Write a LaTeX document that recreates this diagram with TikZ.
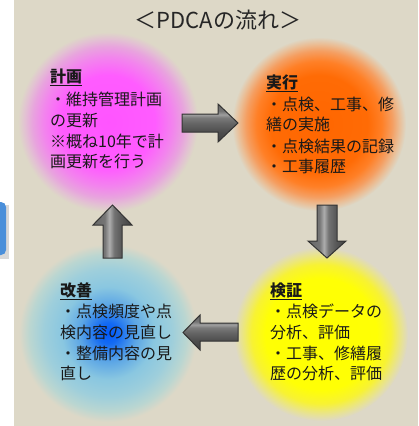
\documentclass[tikz,border=0pt]{standalone}
\usepackage{fontspec}
\newfontfamily\jp{Noto Sans CJK JP}
\definecolor{bg}{RGB}{221,216,199}
\definecolor{tabblue}{RGB}{74,143,218}
\pgfdeclareradialshading{pinkball}{\pgfpointorigin}{rgb(0bp)=(1,0.33,1); rgb(13bp)=(1,0.36,1); rgb(18bp)=(0.95,0.52,0.93); rgb(21bp)=(0.91,0.64,0.87); rgb(23bp)=(0.89,0.75,0.83); rgb(25bp)=(0.867,0.847,0.78); rgb(50bp)=(0.867,0.847,0.78)}
\pgfdeclareradialshading{orangeball}{\pgfpointorigin}{rgb(0bp)=(1,0.40,0); rgb(14bp)=(1,0.42,0.02); rgb(18bp)=(1,0.50,0.15); rgb(21bp)=(0.96,0.62,0.38); rgb(23bp)=(0.92,0.74,0.58); rgb(25bp)=(0.867,0.847,0.78); rgb(50bp)=(0.867,0.847,0.78)}
\pgfdeclareradialshading{yellowball}{\pgfpointorigin}{rgb(0bp)=(1,1,0); rgb(16bp)=(1,1,0.02); rgb(20bp)=(0.97,0.95,0.2); rgb(22bp)=(0.93,0.91,0.45); rgb(23.5bp)=(0.9,0.88,0.62); rgb(25bp)=(0.867,0.847,0.78); rgb(50bp)=(0.867,0.847,0.78)}
\pgfdeclareradialshading{blueball}{\pgfpointorigin}{rgb(0bp)=(0,0.35,1); rgb(3bp)=(0.08,0.42,0.95); rgb(8bp)=(0.36,0.65,0.9); rgb(13bp)=(0.54,0.78,0.88); rgb(18bp)=(0.62,0.81,0.86); rgb(22bp)=(0.73,0.84,0.82); rgb(25bp)=(0.867,0.847,0.78); rgb(50bp)=(0.867,0.847,0.78)}
\pgfdeclareverticalshading{hbevel}{100bp}{rgb(0bp)=(0.25,0.25,0.25); rgb(25bp)=(0.25,0.25,0.25); rgb(38bp)=(0.3,0.3,0.3); rgb(50bp)=(0.4,0.4,0.4); rgb(57bp)=(0.48,0.48,0.48); rgb(61bp)=(0.62,0.62,0.62); rgb(66bp)=(0.45,0.45,0.45); rgb(75bp)=(0.42,0.42,0.42); rgb(100bp)=(0.42,0.42,0.42)}
\pgfdeclarehorizontalshading{vbevel}{100bp}{rgb(0bp)=(0.4,0.4,0.4); rgb(25bp)=(0.4,0.4,0.4); rgb(40bp)=(0.46,0.46,0.46); rgb(46bp)=(0.68,0.68,0.68); rgb(52bp)=(0.45,0.45,0.45); rgb(60bp)=(0.36,0.36,0.36); rgb(75bp)=(0.25,0.25,0.25); rgb(100bp)=(0.25,0.25,0.25)}
\begin{document}
\begin{tikzpicture}[x=1pt,y=-1pt,
  ball/.style={circle,inner sep=0pt,minimum size=#1},
  body/.style={anchor=base west,inner sep=0pt,font=\jp\fontsize{16}{21}\selectfont,text=black!90},
  head/.style={body,font=\jp\bfseries\fontsize{16}{21}\selectfont},
  blockarrow/.style={draw=black!80,line width=1pt,line join=miter}]
\useasboundingbox (0,0) rectangle (418,426);
\fill[white] (0,0) rectangle (418,426);
% left tab
\fill[black!25,opacity=0.6] (-20,205) rectangle (9,259);
\fill[tabblue,rounded corners=5pt] (-20,202) rectangle (6,255);
\fill[bg] (14,0) rectangle (418,426);
% title
\node[anchor=base,inner sep=0pt,font=\jp\fontsize{22}{26}\selectfont,text=black!85] (title) at (218,28) {＜PDCAの流れ＞};
% circles
\node[ball=180pt,shading=pinkball] (plan) at (108,122) {};
\node[ball=174pt,shading=orangeball] (do) at (319,124) {};
\node[ball=174pt,shading=yellowball] (check) at (321,334) {};
\node[ball=178pt,shading=blueball] (act) at (108,333) {};
% arrows
\shade[blockarrow,shading=hbevel] (182,114) -- (218,114) -- (218,104) -- (238,123) -- (218,142) -- (218,132) -- (182,132) -- cycle;
\shade[blockarrow,shading=vbevel] (317,205) -- (337,205) -- (337,241) -- (346,241) -- (327,258) -- (308,241) -- (317,241) -- cycle;
\shade[blockarrow,shading=hbevel] (238,323) -- (238,341) -- (200,341) -- (200,350) -- (183,332.5) -- (200,315) -- (200,323) -- cycle;
\shade[blockarrow,shading=vbevel] (103,258) -- (122,258) -- (122,225) -- (132,225) -- (112.5,205) -- (93,225) -- (103,225) -- cycle;
% plan text
\node[head] (p0) at (50,82) {\underline{計画}};
\node[body] (p1) at (50,105) {・維持管理計画};
\node[body] (p2) at (50,126) {の更新};
\node[body] (p3) at (50,147) {※概ね10年で計};
\node[body] (p4) at (50,167) {画更新を行う};
% do text
\node[head] (d0) at (266,88) {\underline{実行}};
\node[body] (d1) at (266,110) {・点検、工事、修};
\node[body] (d2) at (266,130) {繕の実施};
\node[body] (d3) at (266,152) {・点検結果の記録};
\node[body] (d4) at (266,172) {・工事履歴};
% check text
\node[head] (c0) at (270,296) {\underline{検証}};
\node[body] (c1) at (270,317) {・点検データの};
\node[body] (c2) at (270,338) {分析、評価};
\node[body] (c3) at (270,359) {・工事、修繕履};
\node[body] (c4) at (270,379) {歴の分析、評価};
% act text
\node[head] (a0) at (60,296) {\underline{改善}};
\node[body] (a1) at (60,317) {・点検頻度や点};
\node[body] (a2) at (60,338) {検内容の見直し};
\node[body] (a3) at (60,359) {・整備内容の見};
\node[body] (a4) at (60,379) {直し};
\end{tikzpicture}
\end{document}
